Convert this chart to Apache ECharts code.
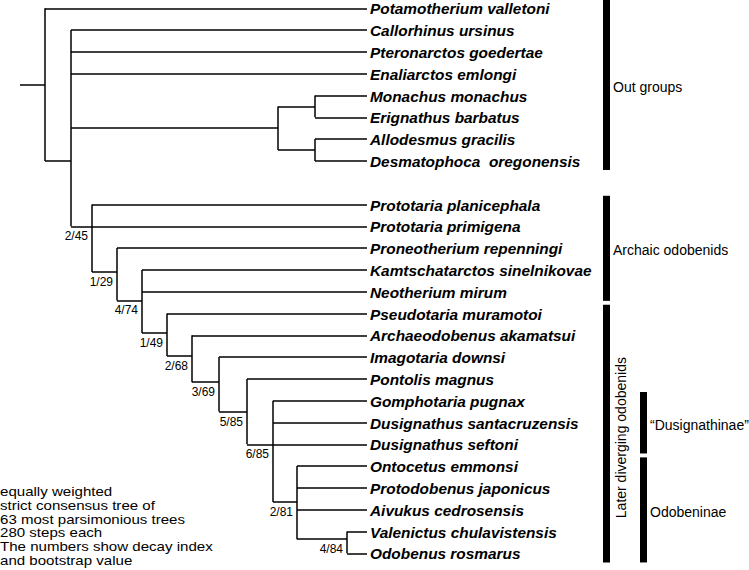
<!DOCTYPE html>
<html><head><meta charset="utf-8">
<script src="https://cdn.jsdelivr.net/npm/echarts@6/dist/echarts.min.js"></script>
<style>html,body{margin:0;padding:0;background:#fff}#c{width:749px;height:570px}</style>
</head><body><div id="c"></div>
<script>
// ---- leaves (terminal taxa) ----
const taxa = ['Potamotherium valletoni','Callorhinus ursinus','Pteronarctos goedertae','Enaliarctos emlongi','Monachus monachus','Erignathus barbatus','Allodesmus gracilis','Desmatophoca  oregonensis','Prototaria planicephala','Prototaria primigena','Proneotherium repenningi','Kamtschatarctos sinelnikovae','Neotherium mirum','Pseudotaria muramotoi','Archaeodobenus akamatsui','Imagotaria downsi','Pontolis magnus','Gomphotaria pugnax','Dusignathus santacruzensis','Dusignathus seftoni','Ontocetus emmonsi','Protodobenus japonicus','Aivukus cedrosensis','Valenictus chulavistensis','Odobenus rosmarus'];
const taxaSlot = [0,1,2,3,4,5,6,7,9,10,11,12,13,14,15,16,17,18,19,20,21,22,23,24,25];
const taxaParent = ['root','crown','crown','crown','monachinae','monachinae','desmatophocid','desmatophocid','odobenidae','odobenidae','n129','n474','n474','n149','n268','n369','n585','n685','n685','n685','n281','n281','n281','n484','n484'];
const tipDepth = 367;
const stemDepth = 20;

// ---- internal nodes ----
const nodeIds     = ['root','crown','phocoid','monachinae','desmatophocid','odobenidae','n129','n474','n149','n268','n369','n585','n685','n281','n484'];
const nodeDepth   = [45,71,278,315,315,92,117,142,167,192,219,247,273,297,347];
const nodeSlot    = [3.5,7,5.5,4.5,6.5,10,12.1,13.4,14.9,15.95,17.15,18.5,20,22.65,24.35];
const nodeParent  = [null,'root','crown','phocoid','phocoid','crown','odobenidae','n129','n474','n149','n268','n369','n585','n685','n281'];
const nodeSupport = ['','','','','','2/45','1/29','4/74','1/49','2/68','3/69','5/85','6/85','2/81','4/84'];

// ---- groups (brackets at right) ----
const groupNames  = ['Out groups','Archaic odobenids','Later diverging odobenids','\u201CDusignathinae\u201D','Odobeninae'];
const groupFirst  = [0,8,13,17,20];
const groupLast   = [7,12,24,19,24];
const groupColumn = [0,0,0,1,1];
const groupRotated= [false,false,true,false,false];

// ---- caption ----
const captionLines = ['equally weighted','strict consensus tree of','63 most parsimonious trees','280 steps each','The numbers show decay index','and bootstrap value'];

const FONT = "'Liberation Sans', Arial, Helvetica, sans-serif";

// build tree segments from structure
const idx = {};
nodeIds.forEach((id,i)=>idx[id]=i);
const segs = [];
const childSlots = nodeIds.map(()=>[]);
taxa.forEach((t,i)=>{
  const p = idx[taxaParent[i]];
  segs.push([[nodeDepth[p], taxaSlot[i]],[tipDepth, taxaSlot[i]]]);
  childSlots[p].push(taxaSlot[i]);
});
nodeIds.forEach((id,i)=>{
  if (nodeParent[i] === null) {
    segs.push([[stemDepth, nodeSlot[i]],[nodeDepth[i], nodeSlot[i]]]);
  } else {
    const p = idx[nodeParent[i]];
    segs.push([[nodeDepth[p], nodeSlot[i]],[nodeDepth[i], nodeSlot[i]]]);
    childSlots[p].push(nodeSlot[i]);
  }
});
nodeIds.forEach((id,i)=>{
  const s = childSlots[i];
  segs.push([[nodeDepth[i], Math.min(...s)],[nodeDepth[i], Math.max(...s)]]);
});

const chart = echarts.init(document.getElementById('c'), null, {renderer:'svg'});
chart.setOption({
  animation:false,
  grid:{left:0,right:0,top:0,bottom:0},
  xAxis:{type:'value',min:0,max:749,show:false},
  yAxis:{type:'value',min:-0.381,max:25.766,inverse:true,show:false},
  series:[
    {
      type:'lines', coordinateSystem:'cartesian2d', polyline:false, silent:true,
      lineStyle:{color:'#000',width:1.5,opacity:1},
      data: segs.map(c=>({coords:c}))
    },
    {
      type:'custom', silent:true,
      data: taxa.map((t,i)=>[tipDepth, taxaSlot[i]]),
      renderItem:(params, api)=>{
        const p = api.coord([api.value(0), api.value(1)]);
        return {type:'text', x:p[0]+3, y:p[1]+0.5, style:{text:taxa[params.dataIndex], fill:'#000',
          font:"italic bold 15.4px "+FONT, align:'left', verticalAlign:'middle'}};
      }
    },
    {
      type:'custom', silent:true,
      data: nodeIds.map((id,i)=>[nodeDepth[i], nodeSlot[i]]),
      renderItem:(params, api)=>{
        const t = nodeSupport[params.dataIndex];
        if (!t) return null;
        const p = api.coord([api.value(0), api.value(1)]);
        return {type:'text', x:p[0]-4, y:p[1]+10, style:{text:t, fill:'#000',
          font:"12px "+FONT, align:'right', verticalAlign:'middle'}};
      }
    },
    {
      type:'custom', silent:true,
      data: groupNames.map((g,i)=>[taxaSlot[groupFirst[i]], taxaSlot[groupLast[i]], groupColumn[i]]),
      renderItem:(params, api)=>{
        const i = params.dataIndex;
        const col = api.value(2);
        const bx = 603 + col*37;
        const top = api.coord([bx, api.value(0)-0.4]);
        const bot = api.coord([bx, api.value(1)+0.42]);
        const mid = (top[1]+bot[1])/2;
        const children = [
          {type:'rect', shape:{x:top[0], y:top[1], width:7, height:bot[1]-top[1]}, style:{fill:'#000'}}
        ];
        if (groupRotated[i]) {
          children.push({type:'text', x:top[0]+18, y:mid+4, rotation:Math.PI/2,
            style:{text:groupNames[i], fill:'#000', font:"14px "+FONT, align:'center', verticalAlign:'middle'}});
        } else {
          children.push({type:'text', x:top[0]+10, y:mid+2,
            style:{text:groupNames[i], fill:'#000', font:"14px "+FONT, align:'left', verticalAlign:'middle'}});
        }
        return {type:'group', children};
      }
    }
  ],
  graphic: captionLines.map((t,i)=>({
    type:'text', x:0, y:491.7 + i*13.66, scaleX:1.16, scaleY:1,
    style:{text:t, fill:'#000', font:"13px "+FONT, align:'left', verticalAlign:'middle'}
  }))
});
</script>
</body></html>
